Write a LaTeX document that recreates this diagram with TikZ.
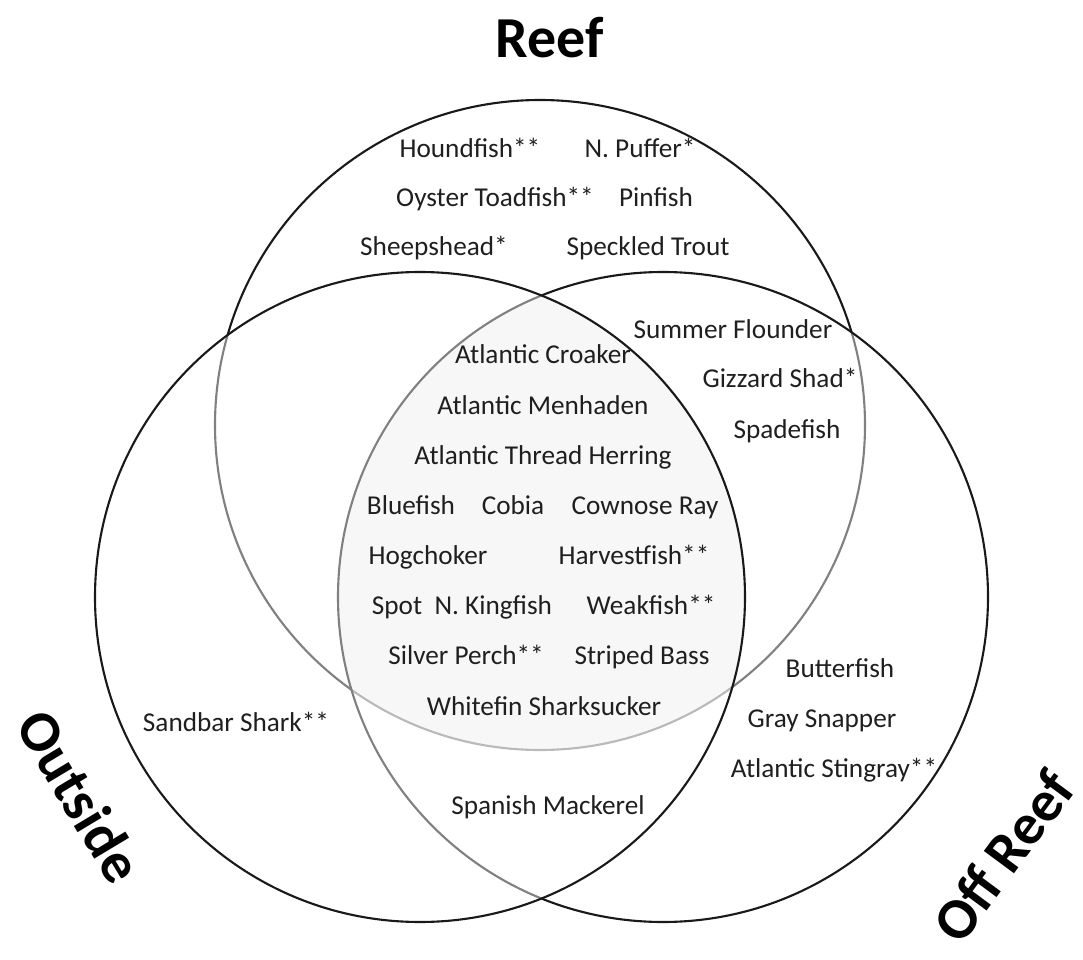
\documentclass[tikz,border=0pt]{standalone}
\usepackage{fontspec}
\setmainfont{Carlito}
\begin{document}
\begin{tikzpicture}[x=0.02cm,y=-0.02cm,
  fish/.style={font=\fontsize{15.5}{18}\selectfont, text=black!88, inner sep=0pt, anchor=base},
  bigtitle/.style={font=\fontsize{33}{37}\selectfont\bfseries, text=black, inner sep=0pt},
  ring/.style={line width=1.2pt, draw=black!90},
  veil/.style={fill=white, fill opacity=0.45}]
\useasboundingbox (0,0) rectangle (1083,960);
\coordinate (R) at (540,425);
\coordinate (O) at (420,597);
\coordinate (F) at (663,597);
% shaded triple intersection
\begin{scope}
  \clip (R) circle (325);
  \clip (O) circle (325);
  \fill[black!9] (F) circle (325);
\end{scope}
% circles
\draw[ring] (R) circle (325);
\fill[veil] (F) circle (325);
\draw[ring] (F) circle (325);
\fill[veil] (O) circle (325);
\draw[ring] (O) circle (325);
% titles
\node[bigtitle] (treef) at (550,38) {Reef};
\node[bigtitle, rotate=-59] (tout) at (80,796) {Outside};
\node[bigtitle, rotate=53.5] (toff) at (1003,856) {Off Reef};
% Reef only
\node[fish] (f1) at (470,157) {Houndfish**};
\node[fish] (f2) at (640,157) {N. Puffer*};
\node[fish] (f3) at (495,206) {Oyster Toadfish**};
\node[fish] (f4) at (656,206) {Pinfish};
\node[fish] (f5) at (434,255) {Sheepshead*};
\node[fish] (f6) at (648,255) {Speckled Trout};
% Reef and Off Reef
\node[fish] (f7) at (733,338) {Summer Flounder};
\node[fish] (f8) at (780,387) {Gizzard Shad*};
\node[fish] (f9) at (787,438) {Spadefish};
% all three
\node[fish] (f10) at (543,363) {Atlantic Croaker};
\node[fish] (f11) at (543,414) {Atlantic Menhaden};
\node[fish] (f12) at (543,464) {Atlantic Thread Herring};
\node[fish] (f13) at (411,514) {Bluefish};
\node[fish] (f14) at (513,514) {Cobia};
\node[fish] (f15) at (645,514) {Cownose Ray};
\node[fish] (f16) at (428,564) {Hogchoker};
\node[fish] (f17) at (634,564) {Harvestfish**};
\node[fish] (f18) at (462,614) {Spot\ \ N. Kingfish};
\node[fish] (f19) at (651,614) {Weakfish**};
\node[fish] (f20) at (466,664) {Silver Perch**};
\node[fish] (f21) at (642,664) {Striped Bass};
\node[fish] (f22) at (544,715) {Whitefin Sharksucker};
% Outside only
\node[fish] (f23) at (236,731) {Sandbar Shark**};
% Off Reef only
\node[fish] (f24) at (840,677) {Butterfish};
\node[fish] (f25) at (822,727) {Gray Snapper};
\node[fish] (f26) at (834,777) {Atlantic Stingray**};
% Outside and Off Reef
\node[fish] (f27) at (548,814) {Spanish Mackerel};
\end{tikzpicture}
\end{document}
